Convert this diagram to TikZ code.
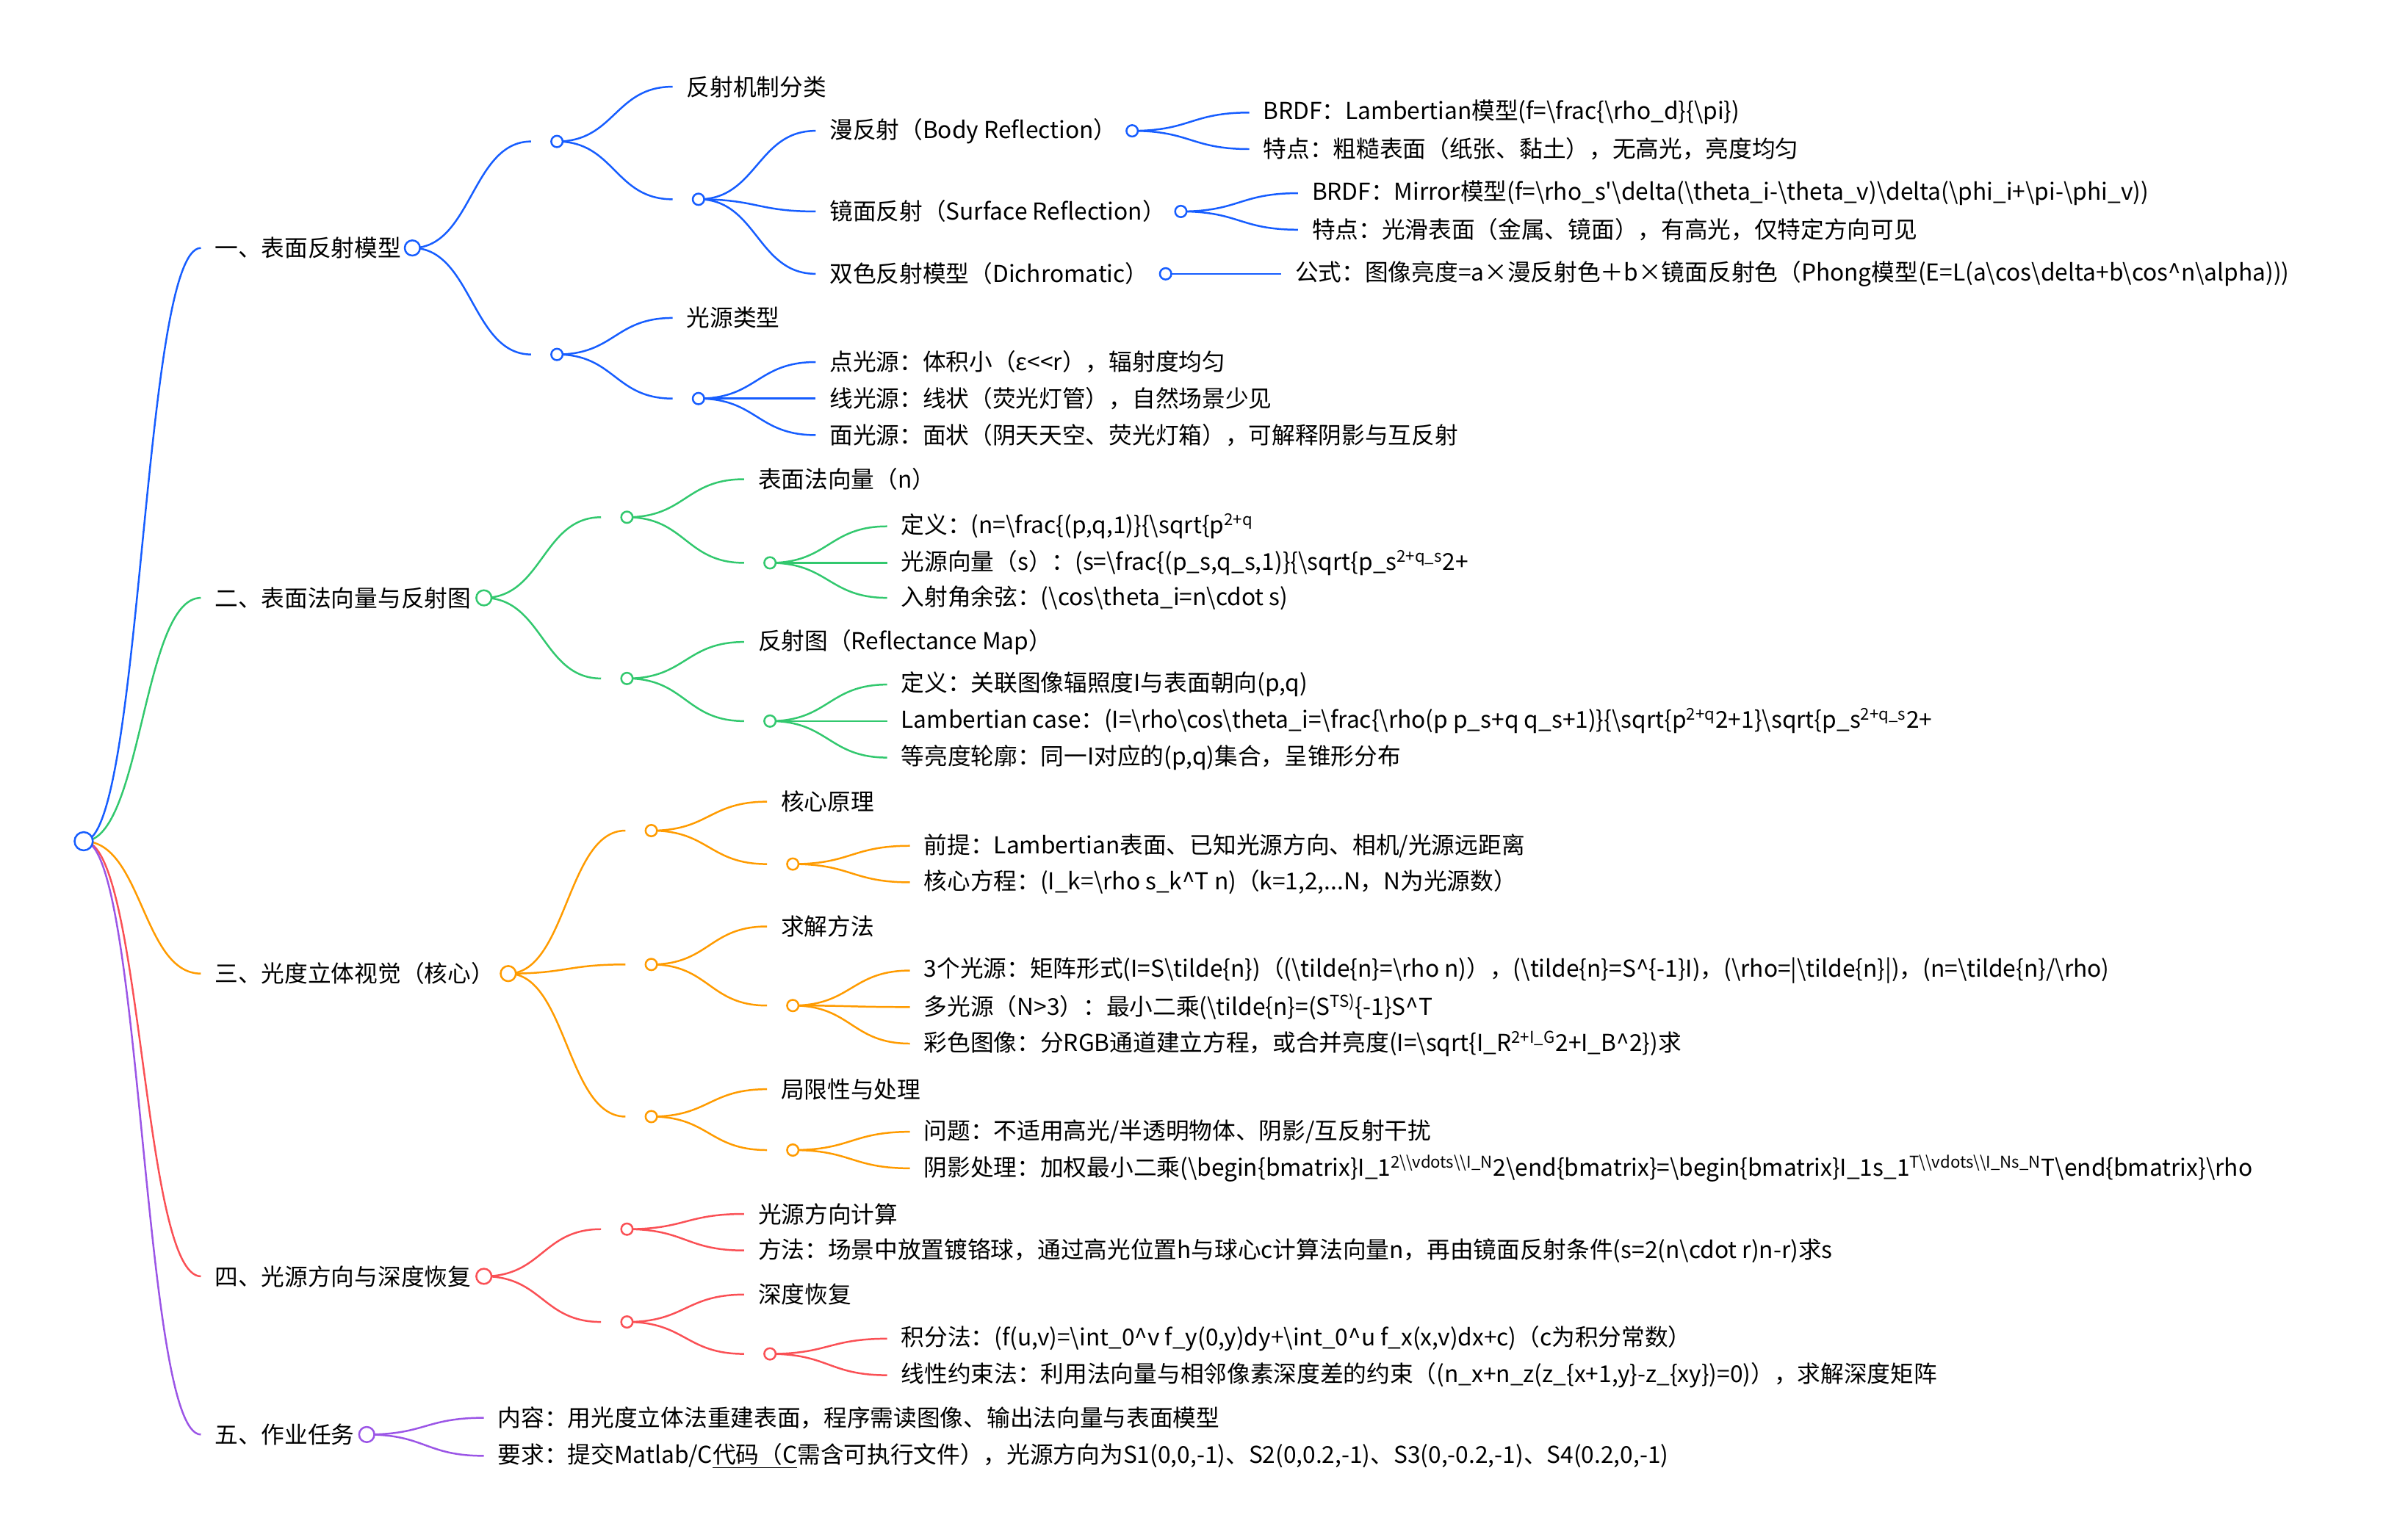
\documentclass[tikz,border=0pt]{standalone}
\usepackage{fontspec}
\setmainfont{Noto Sans CJK SC}
\usetikzlibrary{calc}
\definecolor{cblue}{RGB}{22,93,255}
\definecolor{cgreen}{RGB}{50,200,110}
\definecolor{corange}{RGB}{255,155,0}
\definecolor{cred}{RGB}{250,80,85}
\definecolor{cpurple}{RGB}{155,85,230}
\newcommand{\BS}{\textbackslash}
\newcommand{\up}[1]{\textsuperscript{#1}}
\pgfdeclarelayer{bg}
\pgfsetlayers{bg,main}
\tikzset{
  txt/.style={anchor=west, inner xsep=9pt, inner ysep=1pt, font=\fontsize{15.3}{18}\selectfont},
  dot/.style={circle, draw=#1, fill=white, line width=1.2pt, inner sep=0pt, minimum size=7.5pt},
  bigdot/.style={dot=#1, minimum size=10pt},
  link/.style={draw=#1, line width=1.2pt,
    to path={.. controls ($(\tikztostart)!0.5!(\tikztotarget|-\tikztostart)$)
      and ($(\tikztotarget)!0.5!(\tikztostart|-\tikztotarget)$) .. (\tikztotarget)}},
}
\begin{document}
\begin{tikzpicture}[x=1pt,y=-1pt]
  \useasboundingbox (0,0) rectangle (1568,1012);
  \node[bigdot=cblue, minimum size=12pt] (root) at (55,553) {};
  % 一
  \node[txt] (b1) at (132,163) {一、表面反射模型};
  \node[bigdot=cblue] (b1c) at (271,163) {};
  \coordinate (gA-in) at (349,93);  \node[dot=cblue] (gA) at (366,93) {};
  \node[txt] (a0) at (442,57) {反射机制分类};
  \coordinate (gA1-in) at (442,131); \node[dot=cblue] (gA1) at (459,131) {};
  \node[txt] (a1) at (536,86) {漫反射（Body Reflection）};
  \node[dot=cblue] (a1c) at (744,86) {};
  \node[txt] (a11) at (821,74) {BRDF：Lambertian模型(f=\BS frac\{\BS rho\_d\}\{\BS pi\})};
  \node[txt] (a12) at (821,98) {特点：粗糙表面（纸张、黏土），无高光，亮度均匀};
  \node[txt] (a2) at (536,139) {镜面反射（Surface Reflection）};
  \node[dot=cblue] (a2c) at (776,139) {};
  \node[txt] (a21) at (853,127) {BRDF：Mirror模型(f=\BS rho\_s\textquotesingle\BS delta(\BS theta\_i-\BS theta\_v)\BS delta(\BS phi\_i+\BS pi-\BS phi\_v))};
  \node[txt] (a22) at (853,151) {特点：光滑表面（金属、镜面），有高光，仅特定方向可见};
  \node[txt] (a3) at (536,180) {双色反射模型（Dichromatic）};
  \node[dot=cblue] (a3c) at (766,180) {};
  \node[txt] (a31) at (842,180) {公式：图像亮度=a×漫反射色＋b×镜面反射色（Phong模型(E=L(a\BS cos\BS delta+b\BS cos\textasciicircum n\BS alpha)))};
  \coordinate (gB-in) at (349,233); \node[dot=cblue] (gB) at (366,233) {};
  \node[txt] (b0) at (442,209) {光源类型};
  \coordinate (gB1-in) at (442,262); \node[dot=cblue] (gB1) at (459,262) {};
  \node[txt] (b11) at (536,238) {点光源：体积小（ε<{}<r），辐射度均匀};
  \node[txt] (b12) at (536,262) {线光源：线状（荧光灯管），自然场景少见};
  \node[txt] (b13) at (536,286) {面光源：面状（阴天天空、荧光灯箱），可解释阴影与互反射};
  % 二
  \node[txt] (b2) at (132,393) {二、表面法向量与反射图};
  \node[bigdot=cgreen] (b2c) at (318,393) {};
  \coordinate (gC-in) at (395,340); \node[dot=cgreen] (gC) at (412,340) {};
  \node[txt] (c0) at (489,315) {表面法向量（n）};
  \coordinate (gC1-in) at (489,370); \node[dot=cgreen] (gC1) at (506,370) {};
  \node[txt] (c1) at (583,346) {定义：(n=\BS frac\{(p,q,1)\}\{\BS sqrt\{p\up{2+q}};
  \node[txt] (c2) at (583,370) {光源向量（s）：(s=\BS frac\{(p\_s,q\_s,1)\}\{\BS sqrt\{p\_s\up{2+q\_s}2+};
  \node[txt] (c3) at (583,393) {入射角余弦：(\BS cos\BS theta\_i=n\BS cdot s)};
  \coordinate (gD-in) at (395,446); \node[dot=cgreen] (gD) at (412,446) {};
  \node[txt] (d0) at (489,422) {反射图（Reflectance Map）};
  \coordinate (gD1-in) at (489,474); \node[dot=cgreen] (gD1) at (506,474) {};
  \node[txt] (d1) at (583,450) {定义：关联图像辐照度I与表面朝向(p,q)};
  \node[txt] (d2) at (583,474) {Lambertian case：(I=\BS rho\BS cos\BS theta\_i=\BS frac\{\BS rho(p p\_s+q q\_s+1)\}\{\BS sqrt\{p\up{2+q}2+1\}\BS sqrt\{p\_s\up{2+q\_s}2+};
  \node[txt] (d3) at (583,498) {等亮度轮廓：同一I对应的(p,q)集合，呈锥形分布};
  % 三
  \node[txt] (b3) at (132,640) {三、光度立体视觉（核心）};
  \node[bigdot=corange] (b3c) at (334,640) {};
  \coordinate (gE-in) at (411,546); \node[dot=corange] (gE) at (428,546) {};
  \node[txt] (e0) at (504,527) {核心原理};
  \coordinate (gE1-in) at (504,568); \node[dot=corange] (gE1) at (521,568) {};
  \node[txt] (e1) at (598,556) {前提：Lambertian表面、已知光源方向、相机/光源远距离};
  \node[txt] (e2) at (598,580) {核心方程：(I\_k=\BS rho s\_k\textasciicircum T n)（k=1,2,...N，N为光源数）};
  \coordinate (gF-in) at (411,634); \node[dot=corange] (gF) at (428,634) {};
  \node[txt] (f0) at (504,609) {求解方法};
  \coordinate (gF1-in) at (504,661); \node[dot=corange] (gF1) at (521,661) {};
  \node[txt] (f1) at (598,638) {3个光源：矩阵形式(I=S\BS tilde\{n\})（(\BS tilde\{n\}=\BS rho n)），(\BS tilde\{n\}=S\textasciicircum\{-1\}I)，(\BS rho=|\BS tilde\{n\}|)，(n=\BS tilde\{n\}/\BS rho)};
  \node[txt] (f2) at (598,662) {多光源（N>3）：最小二乘(\BS tilde\{n\}=(S\up{TS)}\{-1\}S\textasciicircum T};
  \node[txt] (f3) at (598,686) {彩色图像：分RGB通道建立方程，或合并亮度(I=\BS sqrt\{I\_R\up{2+I\_G}2+I\_B\textasciicircum 2\})求};
  \coordinate (gG-in) at (411,734); \node[dot=corange] (gG) at (428,734) {};
  \node[txt] (g0) at (504,716) {局限性与处理};
  \coordinate (gG1-in) at (504,756); \node[dot=corange] (gG1) at (521,756) {};
  \node[txt] (g1) at (598,744) {问题：不适用高光/半透明物体、阴影/互反射干扰};
  \node[txt] (g2) at (598,768) {阴影处理：加权最小二乘(\BS begin\{bmatrix\}I\_1\up{2\BS\BS vdots\BS\BS I\_N}2\BS end\{bmatrix\}=\BS begin\{bmatrix\}I\_1s\_1\up{T\BS\BS vdots\BS\BS I\_Ns\_N}T\BS end\{bmatrix\}\BS rho};
  % 四
  \node[txt] (b4) at (132,839) {四、光源方向与深度恢复};
  \node[bigdot=cred] (b4c) at (318,839) {};
  \coordinate (gH-in) at (395,808); \node[dot=cred] (gH) at (412,808) {};
  \node[txt] (h0) at (489,798) {光源方向计算};
  \node[txt] (h1) at (489,822) {方法：场景中放置镀铬球，通过高光位置h与球心c计算法向量n，再由镜面反射条件(s=2(n\BS cdot r)n-r)求s};
  \coordinate (gI-in) at (395,869); \node[dot=cred] (gI) at (412,869) {};
  \node[txt] (i0) at (489,851) {深度恢复};
  \coordinate (gI1-in) at (489,890); \node[dot=cred] (gI1) at (506,890) {};
  \node[txt] (i1) at (583,880) {积分法：(f(u,v)=\BS int\_0\textasciicircum v f\_y(0,y)dy+\BS int\_0\textasciicircum u f\_x(x,v)dx+c)（c为积分常数）};
  \node[txt] (i2) at (583,904) {线性约束法：利用法向量与相邻像素深度差的约束（(n\_x+n\_z(z\_\{x+1,y\}-z\_\{xy\})=0)），求解深度矩阵};
  % 五
  \node[txt] (b5) at (132,943) {五、作业任务};
  \node[bigdot=cpurple] (b5c) at (241,943) {};
  \node[txt] (p1) at (318,932) {内容：用光度立体法重建表面，程序需读图像、输出法向量与表面模型};
  \node[txt] (p2) at (318,957) {要求：提交Matlab/C\underline{代码（C}需含可执行文件），光源方向为S1(0,0,-1)、S2(0,0.2,-1)、S3(0,-0.2,-1)、S4(0.2,0,-1)};
  % links
  \begin{pgfonlayer}{bg}
    \draw[link=cblue] (root.center) to (b1.west);
    \draw[link=cgreen] (root.center) to (b2.west);
    \draw[link=corange] (root.center) to (b3.west);
    \draw[link=cred] (root.center) to (b4.west);
    \draw[link=cpurple] (root.center) to (b5.west);
    \foreach \src/\dst in {b1c/gA-in, b1c/gB-in, gA/a0.west, gA/gA1-in, gA1/a1.west, gA1/a2.west, gA1/a3.west,
        a1c/a11.west, a1c/a12.west, a2c/a21.west, a2c/a22.west, a3c/a31.west,
        gB/b0.west, gB/gB1-in, gB1/b11.west, gB1/b12.west, gB1/b13.west}
      \draw[link=cblue] (\src.center) to (\dst);
    \foreach \src/\dst in {b2c/gC-in, b2c/gD-in, gC/c0.west, gC/gC1-in, gC1/c1.west, gC1/c2.west, gC1/c3.west,
        gD/d0.west, gD/gD1-in, gD1/d1.west, gD1/d2.west, gD1/d3.west}
      \draw[link=cgreen] (\src.center) to (\dst);
    \foreach \src/\dst in {b3c/gE-in, b3c/gF-in, b3c/gG-in, gE/e0.west, gE/gE1-in, gE1/e1.west, gE1/e2.west,
        gF/f0.west, gF/gF1-in, gF1/f1.west, gF1/f2.west, gF1/f3.west,
        gG/g0.west, gG/gG1-in, gG1/g1.west, gG1/g2.west}
      \draw[link=corange] (\src.center) to (\dst);
    \foreach \src/\dst in {b4c/gH-in, b4c/gI-in, gH/h0.west, gH/h1.west, gI/i0.west, gI/gI1-in, gI1/i1.west, gI1/i2.west}
      \draw[link=cred] (\src.center) to (\dst);
    \foreach \src/\dst in {b5c/p1.west, b5c/p2.west}
      \draw[link=cpurple] (\src.center) to (\dst);
  \end{pgfonlayer}
\end{tikzpicture}
\end{document}
